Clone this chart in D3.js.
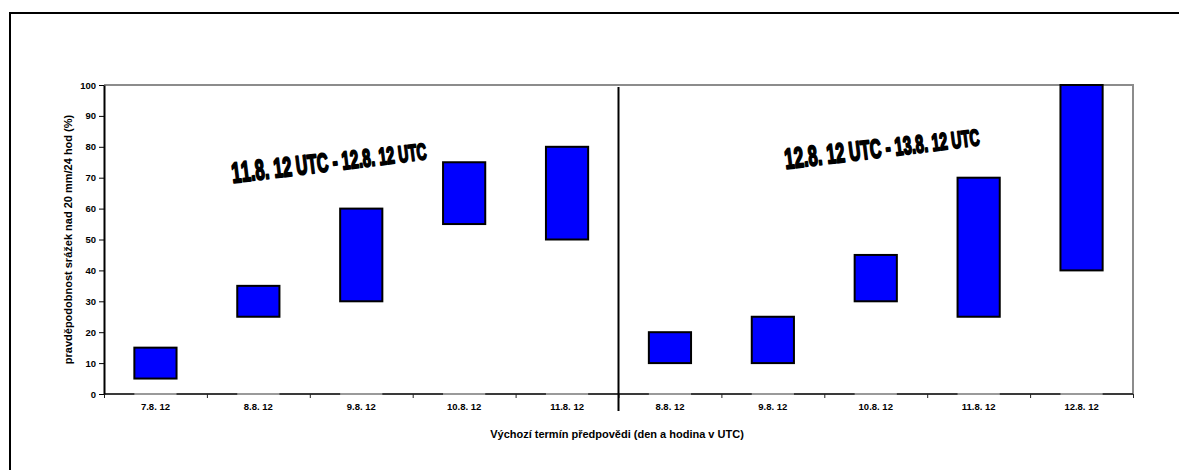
<!DOCTYPE html>
<html>
<head>
<meta charset="utf-8">
<script src="https://cdn.jsdelivr.net/npm/d3@7"></script>
<style>
  html, body { margin: 0; padding: 0; background: #fff; }
  svg { display: block; }
  text { font-family: "Liberation Sans", Arial, sans-serif; }
</style>
</head>
<body>
<svg id="chart" width="1179" height="470"></svg>
<script>
// Forecast start terms (day. hour) for the two verification windows
const categories = ["7.8. 12", "8.8. 12", "9.8. 12", "10.8. 12", "11.8. 12",
                    "8.8. 12", "9.8. 12", "10.8. 12", "11.8. 12", "12.8. 12"];
// Lower and upper bound of the forecast probability range (%)
const lowValues  = [5, 25, 30, 55, 50, 10, 10, 30, 25, 40];
const highValues = [15, 35, 60, 75, 80, 20, 25, 45, 70, 100];
const yTicks = [0, 10, 20, 30, 40, 50, 60, 70, 80, 90, 100];
const periodLabels = ["11.8. 12 UTC - 12.8. 12 UTC", "12.8. 12 UTC - 13.8. 12 UTC"];
const yTitle = "pravděpodobnost srážek nad 20 mm/24 hod (%)";
const xTitle = "Výchozí termín předpovědi (den a hodina v UTC)";

const svg = d3.select("#chart");
const plot = { left: 104, right: 1133, top: 85, bottom: 394 };

// outer frame
svg.append("rect")
  .attr("x", 10).attr("y", 13)
  .attr("width", 1200).attr("height", 500)
  .attr("fill", "none").attr("stroke", "#000").attr("stroke-width", 2);

const idx = categories.map((d, i) => i);
const x = d3.scaleBand().domain(idx).range([plot.left, plot.right])
  .paddingInner(0.59).paddingOuter(0.295);
const xEdge = d3.scaleLinear().domain([0, categories.length]).range([plot.left, plot.right]);
const y = d3.scaleLinear().domain([0, 100]).range([plot.bottom, plot.top]);

// top and right plot borders
svg.append("path")
  .attr("d", `M${plot.left},${plot.top}H${plot.right}V${plot.bottom}`)
  .attr("fill", "none").attr("stroke", "#8c8c8c").attr("stroke-width", 2);

// x axis line
svg.append("line")
  .attr("x1", plot.left).attr("x2", plot.right)
  .attr("y1", y(0)).attr("y2", y(0))
  .attr("stroke", "#3a3a3a").attr("stroke-width", 2);
// lighter base segments under each bar
svg.append("g").selectAll("line").data(idx).join("line")
  .attr("x1", d => x(d)).attr("x2", d => x(d) + x.bandwidth())
  .attr("y1", y(0)).attr("y2", y(0))
  .attr("stroke", "#9a9a9a").attr("stroke-width", 2);

// category boundary ticks
const xTickAxis = d3.axisBottom(xEdge)
  .tickValues(d3.range(0, categories.length + 1))
  .tickFormat("").tickSize(4).tickSizeOuter(0);
svg.append("g").attr("transform", `translate(0,${y(0)})`).call(xTickAxis)
  .call(g => g.select(".domain").remove())
  .call(g => g.selectAll(".tick line").attr("stroke", "#222").attr("stroke-width", 1));

// category labels
const xLabelAxis = d3.axisBottom(x).tickFormat(i => categories[i]).tickSize(0).tickPadding(9);
svg.append("g").attr("transform", `translate(0,${y(0)})`).call(xLabelAxis)
  .call(g => g.select(".domain").remove())
  .call(g => g.selectAll("text")
    .attr("font-family", "Liberation Sans, Arial, sans-serif")
    .attr("font-size", 9.5).attr("font-weight", "bold").attr("fill", "#000"));

// y axis
const yAxis = d3.axisLeft(y).tickValues(yTicks).tickSize(5).tickSizeOuter(0).tickPadding(3);
svg.append("g").attr("transform", `translate(${plot.left},0)`).call(yAxis)
  .call(g => g.select(".domain").attr("stroke", "#000").attr("stroke-width", 2))
  .call(g => g.selectAll(".tick line").attr("stroke", "#000"))
  .call(g => g.selectAll("text")
    .attr("font-family", "Liberation Sans, Arial, sans-serif")
    .attr("font-size", 9.5).attr("font-weight", "bold").attr("fill", "#000"));

// range bars
svg.append("g").selectAll("rect").data(idx).join("rect")
  .attr("x", d => x(d))
  .attr("y", d => y(highValues[d]))
  .attr("width", x.bandwidth())
  .attr("height", d => y(lowValues[d]) - y(highValues[d]))
  .attr("fill", "#0000ff").attr("stroke", "#000").attr("stroke-width", 2);

// divider between the two verification windows
svg.append("line")
  .attr("x1", xEdge(5)).attr("x2", xEdge(5))
  .attr("y1", plot.top + 2).attr("y2", 411)
  .attr("stroke", "#000").attr("stroke-width", 2);

// period labels: tilted, letters shrinking to the right
const periodPos = [{ cx: 330, cy: 171 }, { cx: 883, cy: 157 }];
periodLabels.forEach((t, i) => {
  const chars = Array.from(t);
  const size = d3.scaleLinear().domain([0, chars.length - 1]).range([29, 23]);
  svg.append("text")
    .attr("transform", `translate(${periodPos[i].cx},${periodPos[i].cy}) rotate(-7)`)
    .attr("text-anchor", "middle")
    .attr("font-weight", "bold")
    .attr("textLength", 196).attr("lengthAdjust", "spacingAndGlyphs")
    .attr("fill", "#000").attr("stroke", "#000").attr("stroke-width", 2)
    .attr("stroke-linejoin", "round")
    .selectAll("tspan").data(chars).join("tspan")
    .attr("font-size", (c, j) => size(j))
    .text(c => c);
});

// axis titles
svg.append("text")
  .attr("transform", `translate(68,${(plot.top + plot.bottom) / 2}) rotate(-90)`)
  .attr("text-anchor", "middle").attr("dominant-baseline", "central")
  .attr("font-size", 11).attr("font-weight", "bold")
  .text(yTitle);
svg.append("text")
  .attr("x", 617).attr("y", 434)
  .attr("text-anchor", "middle").attr("dominant-baseline", "central")
  .attr("font-size", 11).attr("font-weight", "bold")
  .text(xTitle);
</script>
</body>
</html>
